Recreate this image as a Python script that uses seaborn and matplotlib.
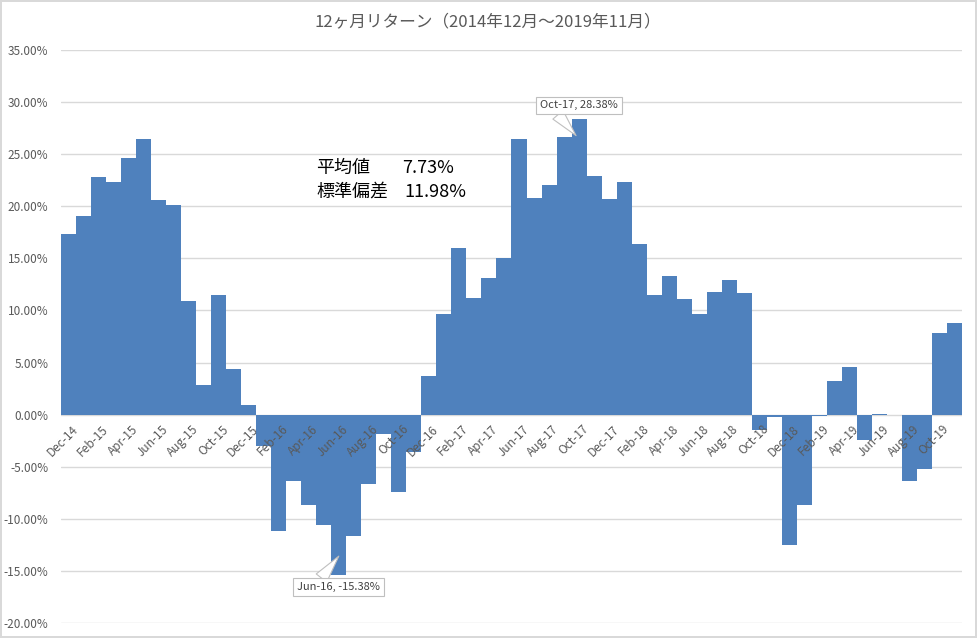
import numpy as np
import pandas as pd
import matplotlib
matplotlib.use("Agg")
import matplotlib.pyplot as plt
import matplotlib.transforms as mtransforms
import seaborn as sns

# ---- data ----
months = pd.date_range("2014-12-01", "2019-11-01", freq="MS").strftime("%b-%y").tolist()
returns = [
    17.37, 19.10, 22.84, 22.36, 24.66, 26.49, 20.63, 20.15, 10.94, 2.82, 11.52, 4.41, 0.90,   # Dec-14..Dec-15
    -3.04, -11.20, -6.40, -8.64, -10.56, -15.38, -11.68, -6.62, -1.90, -7.45, -3.61, 3.68,   # Jan-16..Dec-16
    9.69, 16.03, 11.23, 13.15, 15.07, 26.49, 20.76, 22.07, 26.68, 28.38, 22.94, 20.67,       # Jan-17..Dec-17
    22.36, 16.41, 11.52, 13.34, 11.13, 9.69, 11.80, 12.96, 11.71, -1.50, -0.26, -12.48,      # Jan-18..Dec-18
    -8.64, -0.16, 3.26, 4.60, -2.40, 0.10, 0.0, -6.33, -5.18, 7.87, 8.83,                   # Jan-19..Nov-19
]
title = "12ヶ月リターン（2014年12月～2019年11月）"
stat_names = ["平均値", "標準偏差"]
stat_values = ["7.73%", "11.98%"]
callouts = {"Oct-17": 28.38, "Jun-16": -15.38}
yticks = [-20, -15, -10, -5, 0, 5, 10, 15, 20, 25, 30, 35]

df = pd.DataFrame({"month": months, "ret": returns})

# ---- style ----
sns.set_theme(style="white")
plt.rcParams["font.family"] = ["Noto Sans CJK JP", "DejaVu Sans"]

W, H = 977, 638
fig = plt.figure(figsize=(W / 100, H / 100), dpi=100, edgecolor="#d9d9d9", linewidth=1.5)
ax = fig.add_axes([61 / W, 1 - 623 / H, 901 / W, 573 / H])

sns.barplot(data=df, x="month", y="ret", color="#4F81BD", saturation=1, width=1.0,
            ax=ax, zorder=2, edgecolor="none", linewidth=0)

ax.set_xlim(-0.5, len(months) - 0.5)
ax.set_ylim(-20, 35)
ax.set_yticks(yticks)
ax.set_yticklabels([f"{v:.2f}%" for v in yticks], color="#595959", fontsize=8.5)
ax.tick_params(axis="y", length=0, pad=9)
ax.set_xticks([])
ax.set_xlabel("")
ax.set_ylabel("")
for s in ax.spines.values():
    s.set_visible(False)
ax.yaxis.grid(True, color="#d9d9d9", linewidth=1)
ax.set_axisbelow(True)

# x labels at the 0 line
off = mtransforms.offset_copy(ax.transData, fig=fig, x=3, y=-8, units="dots")
for i, m in enumerate(months):
    if i % 2 == 0:
        ax.text(i, 0, m, transform=off, rotation=45, rotation_mode="anchor",
                ha="right", va="top", fontsize=8.5, color="#595959", zorder=5)

# title
fig.text(488 / W, 1 - 22 / H, title, ha="center", va="center", fontsize=12, color="#595959")

# stats text
for (name, val, yy, xv) in [(stat_names[0], stat_values[0], 168, 402),
                             (stat_names[1], stat_values[1], 192, 404)]:
    fig.text(316 / W, 1 - yy / H, name, fontsize=13, color="black", va="center", ha="left")
    fig.text(xv / W, 1 - yy / H, val, fontsize=13, color="black", va="center", ha="left")

# callouts
idx = {m: i for i, m in enumerate(months)}
box = dict(boxstyle="square,pad=0.35", fc="white", ec="#bfbfbf", lw=0.8)
for name, val in callouts.items():
    i = idx[name]
    if val > 0:
        xy = (i - 0.2, val - 1.6)
        xytext = (i - 0.0, val + 1.3)
        rel = (0.18, 0.0)
    else:
        xy = (i, val + 1.8)
        xytext = (i, val - 1.2)
        rel = (0.25, 1.0)
    ax.annotate(f"{name}, {val:.2f}%", xy=xy, xytext=xytext, textcoords="data",
                ha="center", va="center", fontsize=8, color="#404040", bbox=box,
                arrowprops=dict(arrowstyle="wedge,tail_width=1.2,shrink_factor=0.5",
                                fc="white", ec="#bfbfbf", lw=0.8, relpos=rel,
                                shrinkA=0, shrinkB=0),
                zorder=6)

fig.savefig("out.png", dpi=100, edgecolor=fig.get_edgecolor(), facecolor="white")
